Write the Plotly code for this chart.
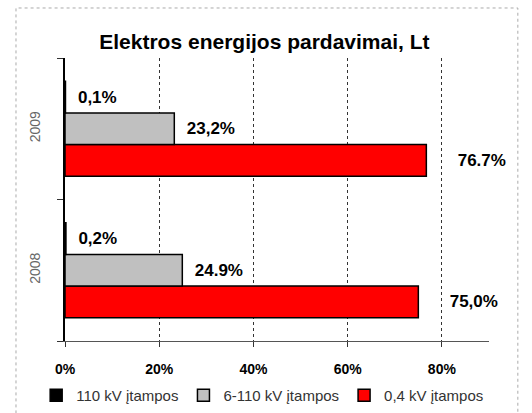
import plotly.graph_objects as go

years = ["2008", "2009"]
series_names = ["0,4 kV įtampos", "6-110 kV įtampos", "110 kV įtampos"]
v_04kv = [75.0, 76.7]
v_6_110kv = [24.9, 23.2]
v_110kv = [0.2, 0.1]
lbl_04kv = ["75,0%", "76.7%"]
lbl_6_110kv = ["24.9%", "23,2%"]
lbl_110kv = ["0,2%", "0,1%"]
x_ticks = [0, 20, 40, 60, 80]
x_tick_labels = ["0%", "20%", "40%", "60%", "80%"]

colors = ["#FF0000", "#C0C0C0", "#000000"]
pads = ["\u00a0" * 6, "\u00a0" * 2, "\u00a0" * 2]

fig = go.Figure()
for name, vals, lbls, col, pad in zip(series_names,
                                      [v_04kv, v_6_110kv, v_110kv],
                                      [lbl_04kv, lbl_6_110kv, lbl_110kv],
                                      colors, pads):
    fig.add_trace(go.Bar(
        y=years, x=vals, name=name, orientation="h",
        marker=dict(color=col, line=dict(color="#000000", width=1.5)),
        text=[pad + t for t in lbls], textposition="outside",
        constraintext="none", cliponaxis=False,
        textfont=dict(family="Arial, Liberation Sans", size=17, color="#000000", weight="bold"),
        hoverinfo="skip",
    ))

fig.update_layout(
    width=532, height=413,
    margin=dict(l=65, r=43, t=58, b=72, autoexpand=False),
    paper_bgcolor="white", plot_bgcolor="white",
    barmode="group", bargap=0.33, bargroupgap=0,
    font=dict(family="Arial, Liberation Sans", color="#000000"),
    title=dict(text="<b>Elektros energijos pardavimai, Lt</b>",
               x=0.497, xanchor="center", y=0.90, yanchor="middle",
               font=dict(size=21, color="#000000")),
    showlegend=True,
    legend=dict(orientation="h", traceorder="reversed",
                xref="paper", yref="paper",
                x=-0.068, xanchor="left", y=-0.193, yanchor="middle",
                font=dict(size=15, color="#333333"),
                itemclick=False, bgcolor="rgba(0,0,0,0)"),
    xaxis=dict(range=[0, 90], tickvals=x_ticks, ticktext=x_tick_labels,
               showgrid=True, gridcolor="#333333", griddash="dot", gridwidth=1,
               zeroline=False, showline=True, linecolor="#555555", linewidth=1,
               ticks="outside", ticklen=5, tickcolor="#333333",
               ticklabelstandoff=10, automargin=False,
               tickfont=dict(size=14, color="#000000", weight="bold"),
               fixedrange=True),
    yaxis=dict(type="category", categoryorder="array", categoryarray=years,
               showgrid=False, zeroline=False, automargin=False,
               showline=True, linecolor="#000000", linewidth=1.5,
               ticks="outside", ticklen=6, tickson="boundaries", tickcolor="#333333",
               tickangle=-90, ticklabelstandoff=18,
               tickfont=dict(size=14, color="#666666"),
               fixedrange=True),
    shapes=[dict(type="rect", xref="paper", yref="paper",
                 x0=-0.1156, x1=1.068, y0=-0.30, y1=1.1767,
                 line=dict(color="#AAAAAA", width=1, dash="dot"),
                 fillcolor="rgba(0,0,0,0)", layer="below")],
)

fig.write_html("out.html", config={"displayModeBar": False},
               post_script="document.body.style.margin='0';")
